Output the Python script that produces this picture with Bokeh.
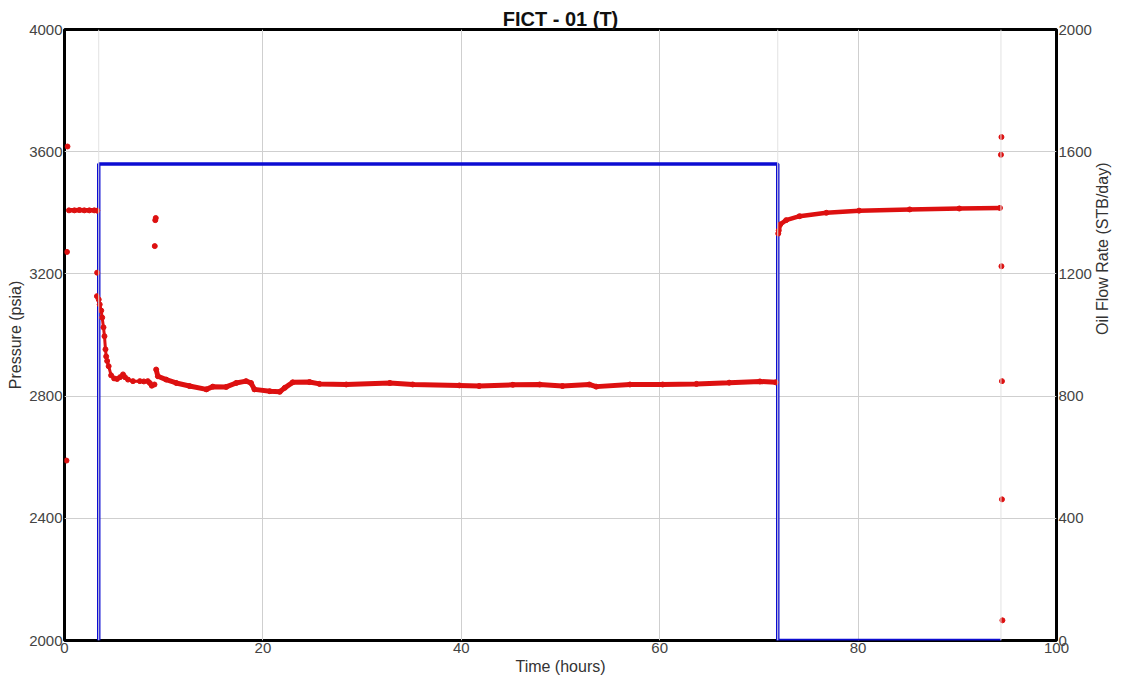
from bokeh.plotting import figure
from bokeh.models import Range1d, LinearAxis, FixedTicker, Span
from bokeh.embed import file_html
from bokeh.resources import INLINE

# ---- data ----
rate_time_h = [3.45, 3.45, 71.9, 71.9, 94.4]
rate_stb_day = [0, 1560, 1560, 0, 0]

init_time_h = [0.45, 1.0, 1.5, 2.0, 2.5, 3.0, 3.3]
init_p_psia = [3408, 3408, 3409, 3408, 3408, 3408, 3407]

trans_time_h = [3.29, 3.27, 3.45]
trans_p_psia = [3204, 3127, 3116]

dd1_time_h = [3.55, 3.7, 3.8, 3.93, 4.03, 4.13, 4.2, 4.3, 4.45, 4.7, 5.0, 5.3,
              5.6, 5.9, 6.1, 6.4, 6.9, 7.6, 8.0, 8.4, 8.6, 8.8, 9.07]
dd1_p_psia = [3100, 3080, 3057, 3025, 2996, 2953, 2930, 2915, 2898, 2868, 2858, 2856,
              2862, 2871, 2862, 2854, 2849, 2849, 2848, 2849, 2843, 2834, 2838]

dd2_time_h = [9.24, 9.41, 10.25, 11.26, 12.6, 14.3, 14.95, 16.3, 17.3, 18.3, 18.8,
              19.15, 20.7, 21.7, 22.2, 23.0, 24.7, 25.7, 28.4, 32.8, 35.1, 39.8,
              41.8, 45.2, 47.9, 50.2, 52.9, 53.6, 57.0, 60.3, 63.7, 67.0, 70.1, 71.7]
dd2_p_psia = [2887, 2865, 2854, 2843, 2833, 2822, 2831, 2830, 2843, 2849, 2843,
              2822, 2816, 2814, 2827, 2845, 2846, 2840, 2838, 2843, 2838, 2835,
              2833, 2837, 2838, 2833, 2838, 2831, 2838, 2838, 2840, 2844, 2848, 2845]

bu_time_h = [71.95, 72.0, 72.15, 72.75, 74.1, 76.8, 80.1, 85.2, 90.2, 94.3]
bu_p_psia = [3332, 3342, 3362, 3376, 3389, 3400, 3407, 3411, 3414, 3416]

out_time_h = [0.3, 0.25, 0.2, 9.15, 9.2, 9.1, 94.45, 94.4, 94.45, 94.5, 94.5, 94.55]
out_p_psia = [3617, 3272, 2589, 3376, 3383, 3291, 3648, 3590, 3225, 2849, 2462, 2066]

x_ticks = [0, 20, 40, 60, 80, 100]
p_ticks = [2000, 2400, 2800, 3200, 3600, 4000]
q_ticks = [0, 400, 800, 1200, 1600, 2000]
event_times_h = [3.45, 71.9, 94.4]

RED = "#dd1010"
BLUE = "#0c0cd2"
FONT = "Liberation Sans"

p = figure(frame_width=992, frame_height=611, output_backend="svg", toolbar_location=None,
           x_range=Range1d(0, 100), y_range=Range1d(2000, 4000),
           min_border_left=64, min_border_right=10, min_border_top=29,
           min_border_bottom=36)
p.extra_y_ranges = {"rate": Range1d(0, 2000)}

p.title.text = "FICT - 01 (T)"
p.title.align = "center"
p.title.text_font = FONT
p.title.text_font_size = "20px"
p.title.text_font_style = "bold"
p.title.text_color = "#111111"
p.title.standoff = 0
p.title.offset = 0

p.outline_line_color = "black"
p.outline_line_width = 3
p.background_fill_color = "white"
p.border_fill_color = "white"

p.xaxis.ticker = FixedTicker(ticks=x_ticks)
p.yaxis.ticker = FixedTicker(ticks=p_ticks)
p.xaxis.axis_label = "Time (hours)"
p.yaxis.axis_label = "Pressure (psia)"

# right axis: tick labels only
rax = LinearAxis(y_range_name="rate", ticker=FixedTicker(ticks=q_ticks))
p.add_layout(rax, "right")
# right axis title, reading bottom-to-top (separate label-only axis)
rlab = LinearAxis(y_range_name="rate", ticker=FixedTicker(ticks=[]),
                  axis_label="Oil Flow Rate (STB/day)")
p.add_layout(rlab, "right")

for ax in [p.xaxis[0], p.yaxis[0], rax, rlab]:
    ax.axis_line_color = None
    ax.major_tick_line_color = None
    ax.minor_tick_line_color = None
    ax.major_tick_out = 0
    ax.major_tick_in = 0
    ax.major_label_text_font = FONT
    ax.major_label_text_font_size = "15px"
    ax.major_label_text_color = "#444444"
    ax.major_label_standoff = 2
    ax.axis_label_text_font = FONT
    ax.axis_label_text_font_size = "16px"
    ax.axis_label_text_font_style = "normal"
    ax.axis_label_text_color = "#333333"
    ax.axis_label_standoff = 2

rlab.major_label_standoff = 0
rlab.axis_label_standoff = 8
rlab.axis_label_orientation = 1.5707963

p.xgrid.ticker = FixedTicker(ticks=x_ticks)
p.ygrid.ticker = FixedTicker(ticks=p_ticks)
p.grid.grid_line_color = "#cfcfcf"
p.grid.grid_line_width = 1

for t in event_times_h:
    p.add_layout(Span(location=t, dimension="height", line_color="#e2e2e2", line_width=1))

# rate
p.line(rate_time_h, rate_stb_day, y_range_name="rate", line_color=BLUE, line_width=3.5)

# pressure
for tx, py, w in [(init_time_h, init_p_psia, 4.5), (dd1_time_h, dd1_p_psia, 3),
                  (dd2_time_h, dd2_p_psia, 5), (bu_time_h, bu_p_psia, 4.5)]:
    p.line(tx, py, line_color=RED, line_width=w)
    p.scatter(tx, py, size=5, color=RED)

p.scatter(trans_time_h, trans_p_psia, size=5, color=RED)
p.scatter(out_time_h, out_p_psia, size=5, color=RED)

open("out.html", "w").write(file_html(p, INLINE))
